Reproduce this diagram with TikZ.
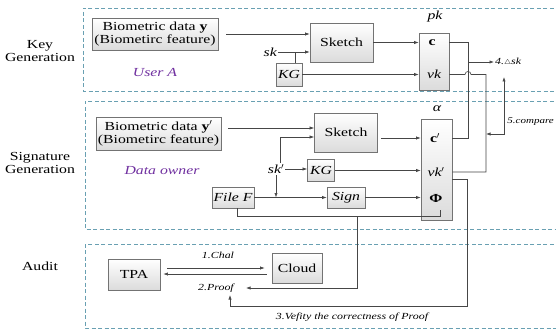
\documentclass[tikz,border=0pt]{standalone}
\usepackage{fontspec}
\setmainfont[FakeStretch=1.28]{Liberation Serif}
\usetikzlibrary{arrows.meta,calc}
\definecolor{panelc}{RGB}{105,160,178}
\definecolor{purp}{RGB}{112,48,160}
\definecolor{linec}{RGB}{70,70,70}
\definecolor{boxc}{RGB}{115,115,115}
\begin{document}
\begin{tikzpicture}[x=1pt,y=-1pt,
 panel/.style={draw=panelc,line width=0.7pt,dash pattern=on 4pt off 2.5pt},
 box/.style={draw=boxc,line width=0.7pt,top color=white,bottom color=black!14,inner sep=0pt,align=center,font=\fontsize{12.3}{13.3}\selectfont},
 itbox/.style={box,font=\fontsize{12.3}{13.3}\selectfont\itshape},
 txt/.style={inner sep=1pt,font=\fontsize{12.3}{13.5}\selectfont,align=center},
 itx/.style={inner sep=1pt,font=\fontsize{12.3}{13.3}\selectfont\itshape},
 small/.style={inner sep=1pt,font=\fontsize{9.3}{10}\selectfont\itshape},
 who/.style={inner sep=1pt,font=\fontsize{12.3}{13.3}\selectfont\itshape,text=purp},
 ln/.style={draw=linec,line width=0.6pt},
 arr/.style={ln,-{Latex[length=4.5pt,width=3.2pt]}},
 darr/.style={ln,{Latex[length=4.5pt,width=3.2pt]}-{Latex[length=4.5pt,width=3.2pt]}}]
\useasboundingbox (0,0) rectangle (556,334);
\fill[white] (0,0) rectangle (556,334);
\clip (0,0) rectangle (556,334);
% panels
\draw[panel] (560,8) -- (83,8) -- (83,91) -- (560,91);
\draw[panel] (560,101) -- (85,101) -- (85,229) -- (560,229);
\draw[panel] (560,244) -- (85,244) -- (85,328) -- (560,328);

% ---- Key generation
\node[txt] (lkg) at (40,51) {Key\\Generation};
\node[box,minimum width=126pt,minimum height=32pt] (bio1) at (155,34) {Biometric data \textbf{y}\\(Biometirc feature)};
\node[who] (usera) at (155,73) {User A};
\node[box,minimum width=63pt,minimum height=39pt] (sk1) at (341.5,42.5) {Sketch};
\node[itx,anchor=east] (skl1) at (278,52) {sk};
\coordinate (j1) at (295,52);
\node[itbox,minimum width=26pt,minimum height=23pt] (kg1) at (289,74.5) {KG};
\node[box,minimum width=30pt,minimum height=57pt] (pk) at (434,61.5) {};
\node[txt] (c1) at (432,42.5) {\textbf{c}};
\node[itx] (vk1) at (434,74.5) {vk};
\node[itx] (pkl) at (435,17) {pk};
\coordinate (xa) at (468,62);
\coordinate (xb) at (486,74.5);
\node[small,anchor=west] (dsk) at (494,62) {4.$\scriptstyle\triangle$sk};

% ---- Signature generation
\node[txt] (lsg) at (40,163) {Signature\\Generation};
\node[box,minimum width=125pt,minimum height=33pt] (bio2) at (158.5,133.5) {Biometric data \textbf{y}$'$\\(Biometirc feature)};
\node[who] (owner) at (162,171) {Data owner};
\node[box,minimum width=63pt,minimum height=39pt] (sk2) at (346,132.5) {Sketch};
\node[itx] (skl2) at (276,169) {sk$'$};
\coordinate (j2) at (280,137);
\node[itbox,minimum width=27pt,minimum height=22pt] (kg2) at (321,170.5) {KG};
\node[itbox,minimum width=42pt,minimum height=21pt] (filef) at (233,197.5) {File F};
\node[itbox,minimum width=38pt,minimum height=21pt] (sign) at (346,197.5) {Sign};
\node[box,minimum width=31pt,minimum height=101pt] (alpha) at (436.5,169.5) {};
\node[txt] (c2) at (435,138) {\textbf{c}$'$};
\node[itx] (vk2) at (436,172) {vk$'$};
\node[txt] (phi) at (436,198) {\textbf{Φ}};
\node[itx] (al) at (437,109) {α};
\node[small,anchor=east,font=\fontsize{8.6}{10}\selectfont\itshape] (cmp) at (555,122) {5.compare};
\coordinate (xc) at (504,134);
\coordinate (tipu) at (504,77);

% ---- Audit
\node[txt] (lau) at (40,266) {Audit};
\node[box,minimum width=52pt,minimum height=31pt] (tpa) at (134,274.5) {TPA};
\node[box,minimum width=50pt,minimum height=30pt] (cloud) at (297,268) {Cloud};
\node[small] (chal) at (218,255) {1.Chal};
\node[small] (proof) at (216,288) {2.Proof};
\node[small] (ver) at (352,317) {3.Vefity the correctness of Proof};

% ---- connectors, key generation
\draw[arr] ($(bio1.east)+(8,0)$) -- (bio1.east -| sk1.west);
\draw[arr] (skl1.east) -- (skl1.east -| sk1.west);
\draw[ln] (kg1.north -| j1) -- (j1);
\draw[arr] (sk1.east) -- (sk1.east -| pk.west);
\draw[arr] (kg1.east) -- (kg1.east -| pk.west);
\draw[ln] (pk.east |- c1) -- (c1 -| xa) -- (c2 -| xa) -- (alpha.east |- c2);
\draw[arr] (xa) -- (dsk.west);
\draw[ln] (pk.east |- vk1) -- (465,74.5) .. controls (465,70.5) and (471,70.5) .. (471,74.5) -- (xb) -- (xb |- vk2) -- (alpha.east |- vk2);
\draw[darr] (xc -| xb) -- (xc) -- (tipu);

% ---- connectors, signature generation
\draw[arr] ($(bio2.east)+(7,-5.5)$) -- ($(bio2.east -| sk2.west)+(0,-5.5)$);
\draw[arr] (skl2.north -| j2) -- (j2) -- (j2 -| sk2.west);
\draw[arr] (skl2.east) -- (skl2.east -| kg2.west);
\draw[arr] (skl2.south) -- (skl2.south |- filef.east);
\draw[arr] (filef.east) -- (sign.west);
\draw[arr] ($(sk2.east |- c2)+(3,0)$) -- (c2 -| alpha.west);
\draw[arr] (kg2.east) -- (kg2.east -| alpha.west);
\draw[arr] (sign.east) -- (sign.east -| alpha.west);
\coordinate (fl) at (237,216);
\coordinate (fr) at (440,216);
\coordinate (fu) at (440,210);
\draw[ln] (filef.south -| fl) -- (fl) -- (fr) -- (fu);
\coordinate (pv) at (357,216);
\coordinate (pb) at (357,288);
\coordinate (pt) at (246,288);
\draw[arr] (pv) -- (pb) -- (pt);
\coordinate (vd) at (467,179);
\coordinate (vb) at (467,306);
\coordinate (vl) at (230,306);
\coordinate (vt) at (230,295);
\draw[arr] (alpha.east |- vd) -- (vd) -- (vb) -- (vl) -- (vt);

% ---- connectors, audit
\draw[arr] ($(tpa.east)+(7,-6.5)$) -- ($(cloud.west)+(-7,0)$);
\draw[arr] ($(cloud.west)+(-5,6)$) -- ($(tpa.east)+(3,-0.5)$);
\end{tikzpicture}
\end{document}
